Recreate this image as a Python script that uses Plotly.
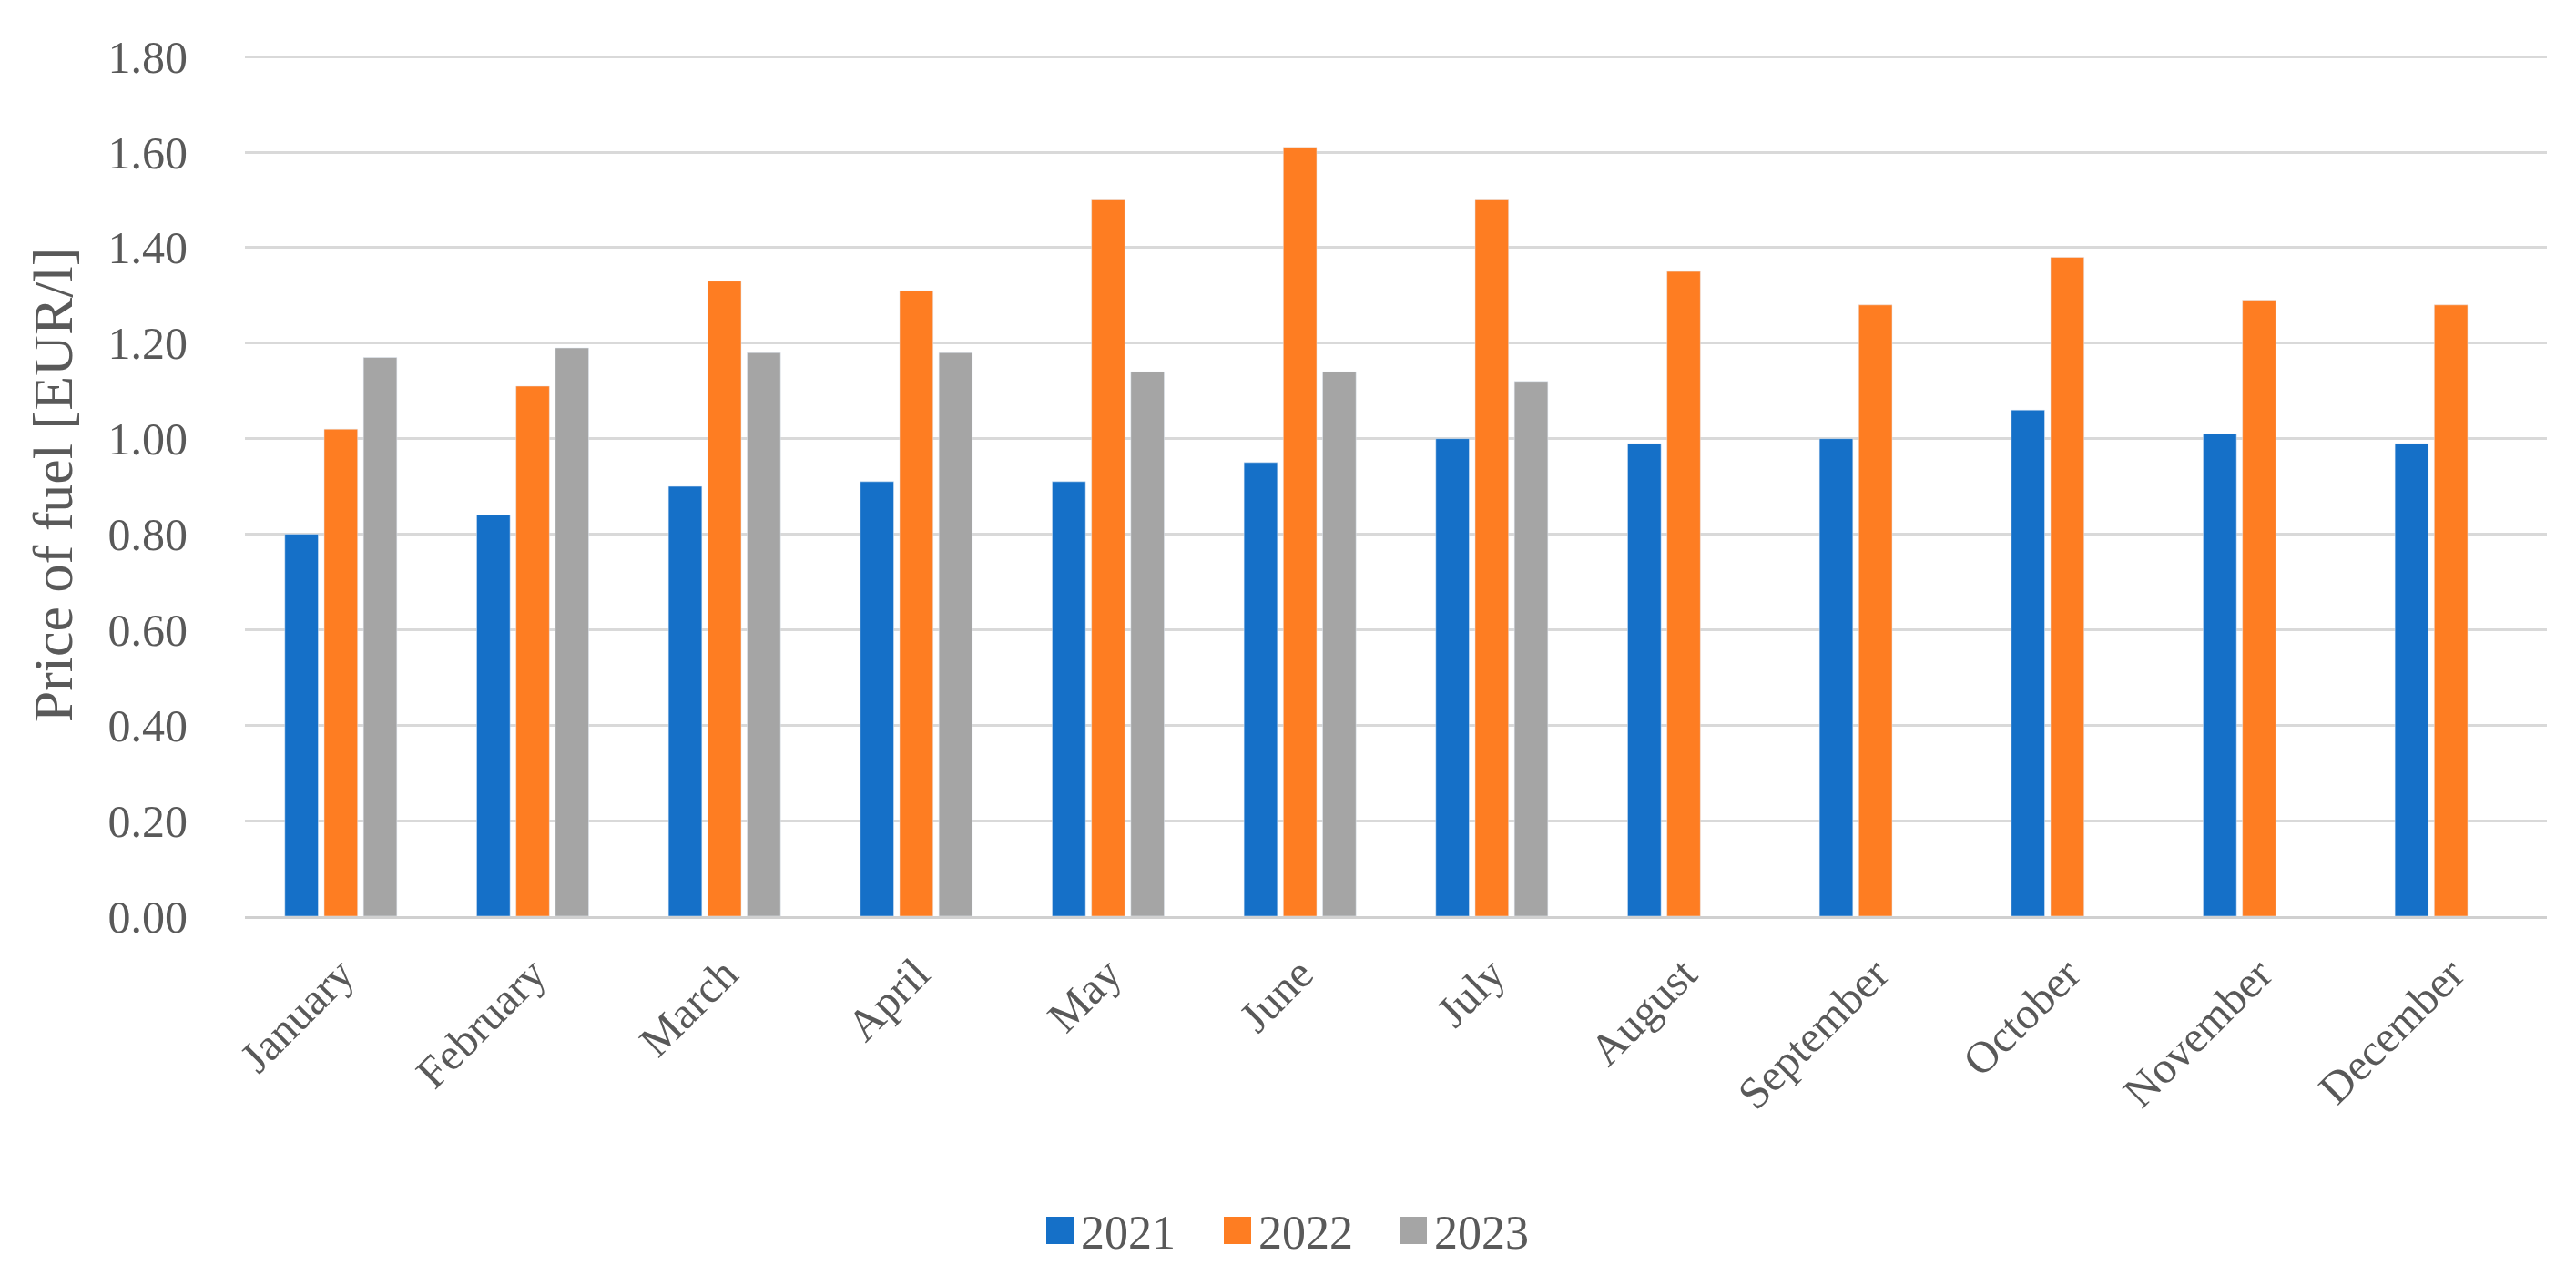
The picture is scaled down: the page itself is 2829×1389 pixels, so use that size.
import plotly.graph_objects as go

months = ["January", "February", "March", "April", "May", "June",
          "July", "August", "September", "October", "November", "December"]
y2021 = [0.80, 0.84, 0.90, 0.91, 0.91, 0.95, 1.00, 0.99, 1.00, 1.06, 1.01, 0.99]
y2022 = [1.02, 1.11, 1.33, 1.31, 1.50, 1.61, 1.50, 1.35, 1.28, 1.38, 1.29, 1.28]
y2023 = [1.17, 1.19, 1.18, 1.18, 1.14, 1.14, 1.12, None, None, None, None, None]
series_names = ["2021", "2022", "2023"]
series_colors = ["#1570C8", "#FE7D22", "#A5A5A5"]
ytick_vals = [0.0, 0.2, 0.4, 0.6, 0.8, 1.0, 1.2, 1.4, 1.6, 1.8]
ytick_text = ["0.00", "0.20", "0.40", "0.60", "0.80", "1.00", "1.20", "1.40", "1.60", "1.80"]

FONT = "Liberation Serif"
TXT = "#595959"

W, H = 2829, 1389
ML, MR, MT, MB = 261, 40, 51, 391
PW, PH = W - ML - MR, H - MT - MB


def px_x(X):
    return (X - ML) / PW


def px_y(Y):
    return (H - MB - Y) / PH


fig = go.Figure()
for name, vals, col in zip(series_names, [y2021, y2022, y2023], series_colors):
    fig.add_trace(go.Bar(name=name, x=months, y=vals, marker_color=col, showlegend=False))

# manual legend (large square swatches as in the reference)
legend_sq_left = [1141, 1336, 1529]
SQ = 30
LEG_Y = 1343
for name, col, lx in zip(series_names, series_colors, legend_sq_left):
    fig.add_shape(type="rect", xref="paper", yref="paper",
                  x0=px_x(lx), x1=px_x(lx + SQ), y0=px_y(LEG_Y + SQ / 2), y1=px_y(LEG_Y - SQ / 2),
                  fillcolor=col, line=dict(width=0))
    fig.add_annotation(text=name, xref="paper", yref="paper", x=px_x(lx + SQ + 6), y=px_y(LEG_Y + 2),
                       xanchor="left", yanchor="middle", showarrow=False,
                       font=dict(family=FONT, size=52, color=TXT))

fig.update_layout(
    width=W, height=H,
    barmode="group", bargap=0.385, bargroupgap=0.15,
    plot_bgcolor="white", paper_bgcolor="white",
    margin=dict(l=ML, r=MR, t=MT, b=MB),
    font=dict(family=FONT, color=TXT, size=48),
    showlegend=False,
)
fig.update_yaxes(
    range=[0, 1.806], tickvals=ytick_vals, ticktext=ytick_text,
    showgrid=True, gridcolor="#D9D9D9", gridwidth=3,
    zeroline=False, showline=False, ticks="",
    ticklabelstandoff=62,
    tickfont=dict(family=FONT, size=50, color=TXT),
    title=dict(text="Price of fuel [EUR/l]", font=dict(family=FONT, size=62, color=TXT), standoff=18),
)
fig.update_xaxes(
    showline=True, linecolor="#D0D0D0", linewidth=3, ticks="",
    tickangle=-45, ticklabelstandoff=12,
    tickfont=dict(family=FONT, size=49, color=TXT),
)
fig.write_html("out.html")
